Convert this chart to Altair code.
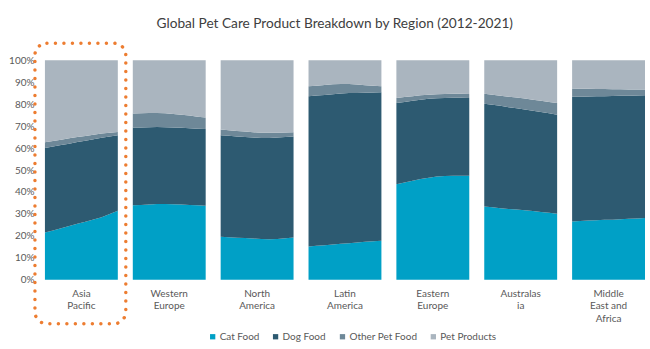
import altair as alt
import pandas as pd

regions = ["Asia Pacific", "Western Europe", "North America", "Latin America",
           "Eastern Europe", "Australasia", "Middle East and Africa"]
years = list(range(2012, 2022))
categories = ["Cat Food", "Dog Food", "Other Pet Food", "Pet Products"]
colors = ["#00A0C6", "#2D5A71", "#6E8898", "#AAB5BF"]

cat_food = {
    "Asia Pacific": [21.5, 22.5, 23.5, 24.5, 25.5, 26.5, 27.5, 28.5, 30.0, 31.5],
    "Western Europe": [33.9, 34.1, 34.3, 34.5, 34.5, 34.4, 34.3, 34.1, 33.9, 33.7],
    "North America": [19.6, 19.4, 19.2, 19.0, 18.8, 18.6, 18.5, 18.6, 18.9, 19.3],
    "Latin America": [15.2, 15.5, 15.8, 16.1, 16.4, 16.7, 17.0, 17.3, 17.6, 17.8],
    "Eastern Europe": [43.5, 44.3, 45.1, 45.9, 46.5, 47.0, 47.3, 47.4, 47.4, 47.4],
    "Australasia": [33.4, 33.0, 32.6, 32.3, 32.0, 31.7, 31.3, 30.9, 30.5, 30.1],
    "Middle East and Africa": [26.6, 26.8, 27.0, 27.1, 27.3, 27.4, 27.6, 27.8, 27.9, 28.1],
}
dog_food = {
    "Asia Pacific": [38.5, 38.2, 37.9, 37.5, 37.2, 36.8, 36.5, 36.2, 35.3, 34.3],
    "Western Europe": [35.4, 35.3, 35.2, 35.1, 35.0, 34.9, 34.9, 34.9, 34.9, 35.0],
    "North America": [46.2, 46.2, 46.1, 46.0, 46.0, 46.0, 46.1, 46.2, 46.1, 46.0],
    "Latin America": [68.4, 68.4, 68.4, 68.4, 68.4, 68.3, 68.1, 67.9, 67.7, 67.6],
    "Eastern Europe": [37.0, 36.7, 36.4, 36.1, 35.9, 35.7, 35.5, 35.5, 35.5, 35.4],
    "Australasia": [46.8, 46.7, 46.6, 46.3, 46.1, 45.9, 45.7, 45.5, 45.3, 45.1],
    "Middle East and Africa": [56.7, 56.6, 56.5, 56.5, 56.3, 56.3, 56.2, 56.0, 56.0, 55.9],
}
other_pet_food = {
    "Asia Pacific": [2.6, 2.5, 2.4, 2.4, 2.3, 2.2, 2.0, 1.9, 1.7, 1.5],
    "Western Europe": [6.4, 6.4, 6.5, 6.4, 6.3, 6.2, 6.0, 5.8, 5.5, 5.2],
    "North America": [2.6, 2.5, 2.5, 2.5, 2.4, 2.4, 2.4, 2.2, 2.1, 1.9],
    "Latin America": [4.5, 4.5, 4.5, 4.5, 4.4, 4.1, 3.8, 3.4, 3.0, 2.7],
    "Eastern Europe": [2.3, 2.2, 2.1, 2.0, 1.9, 1.8, 1.8, 1.8, 1.8, 1.8],
    "Australasia": [4.5, 4.6, 4.6, 4.8, 4.9, 4.9, 5.0, 5.1, 5.2, 5.3],
    "Middle East and Africa": [3.8, 3.6, 3.5, 3.3, 3.3, 3.1, 3.0, 2.9, 2.8, 2.6],
}
pet_products = {
    "Asia Pacific": [37.4, 36.8, 36.2, 35.6, 35.0, 34.5, 34.0, 33.4, 33.0, 32.7],
    "Western Europe": [24.3, 24.2, 24.0, 24.0, 24.2, 24.5, 24.8, 25.2, 25.7, 26.1],
    "North America": [31.6, 31.9, 32.2, 32.5, 32.8, 33.0, 33.0, 33.0, 32.9, 32.8],
    "Latin America": [11.9, 11.6, 11.3, 11.0, 10.8, 10.9, 11.1, 11.4, 11.7, 11.9],
    "Eastern Europe": [17.2, 16.8, 16.4, 16.0, 15.7, 15.5, 15.4, 15.3, 15.3, 15.4],
    "Australasia": [15.3, 15.7, 16.2, 16.6, 17.0, 17.5, 18.0, 18.5, 19.0, 19.5],
    "Middle East and Africa": [12.9, 13.0, 13.0, 13.1, 13.1, 13.2, 13.2, 13.3, 13.3, 13.4],
}
y_ticks = [0.0, 0.1, 0.2, 0.3, 0.4, 0.5, 0.6, 0.7, 0.8, 0.9, 1.0]

series = [cat_food, dog_food, other_pet_food, pet_products]
rows = []
for r in regions:
    for ci, (cat, s) in enumerate(zip(categories, series)):
        for yr, v in zip(years, s[r]):
            rows.append({"region": r, "year": yr, "category": cat, "order": ci, "share": v})
df = pd.DataFrame(rows)

FONT = "Lato"

area = alt.Chart().mark_area(interpolate="linear").encode(
    x=alt.X("year:Q", axis=None, scale=alt.Scale(domain=[2012, 2021], nice=False, zero=False)),
    y=alt.Y("share:Q", stack="normalize",
            scale=alt.Scale(domain=[0, 1], nice=False),
            axis=alt.Axis(format=".0%", values=y_ticks, title=None, grid=False, ticks=False,
                          domain=False, labelFontSize=10, labelColor="#595959",
                          labelPadding=11, labelFont=FONT)),
    color=alt.Color("category:N", scale=alt.Scale(domain=categories, range=colors),
                    legend=alt.Legend(orient="none", legendX=163, legendY=272,
                                      direction="horizontal", title=None,
                                      symbolType="square", symbolSize=28,
                                      symbolStrokeWidth=0, labelFontSize=10,
                                      labelColor="#595959", labelFont=FONT,
                                      columnPadding=11, labelOffset=2)),
    order=alt.Order("order:Q"),
)

box = alt.Chart().transform_filter(
    "datum.region == 'Asia Pacific' && datum.order == 0 && datum.year == 2012"
).mark_rect(fillOpacity=0, stroke="#ED7D31", strokeWidth=3.5, strokeDash=[0.01, 8.5],
            strokeCap="round", cornerRadius=12).encode(
    x=alt.value(-10), x2=alt.value(81), y=alt.value(-17), y2=alt.value(264)
)

label_expr = ("datum.value == 'Australasia' ? ['Australas', 'ia'] : "
              "datum.value == 'Middle East and Africa' ? ['Middle', 'East and', 'Africa'] : "
              "split(datum.value, ' ')")

chart = alt.layer(area, box, data=df).properties(width=73, height=220).facet(
    column=alt.Column("region:N", sort=regions, title=None,
                      header=alt.Header(labelOrient="bottom", labelExpr=label_expr,
                                        labelFontSize=10, labelColor="#595959",
                                        labelFont=FONT, labelPadding=9,
                                        labelLineHeight=12.7)),
    spacing=15,
    bounds="flush",
).properties(
    title=alt.TitleParams("Global Pet Care Product Breakdown by Region (2012-2021)",
                          fontSize=13.7, font=FONT, fontWeight="normal", color="#404040",
                          anchor="middle", offset=11, dx=8),
    padding={"left": 8, "top": 16, "right": 5, "bottom": 5},
    background="white",
).configure_view(stroke=None)

chart.save("out.html", embed_options={"renderer": "svg", "actions": False})
